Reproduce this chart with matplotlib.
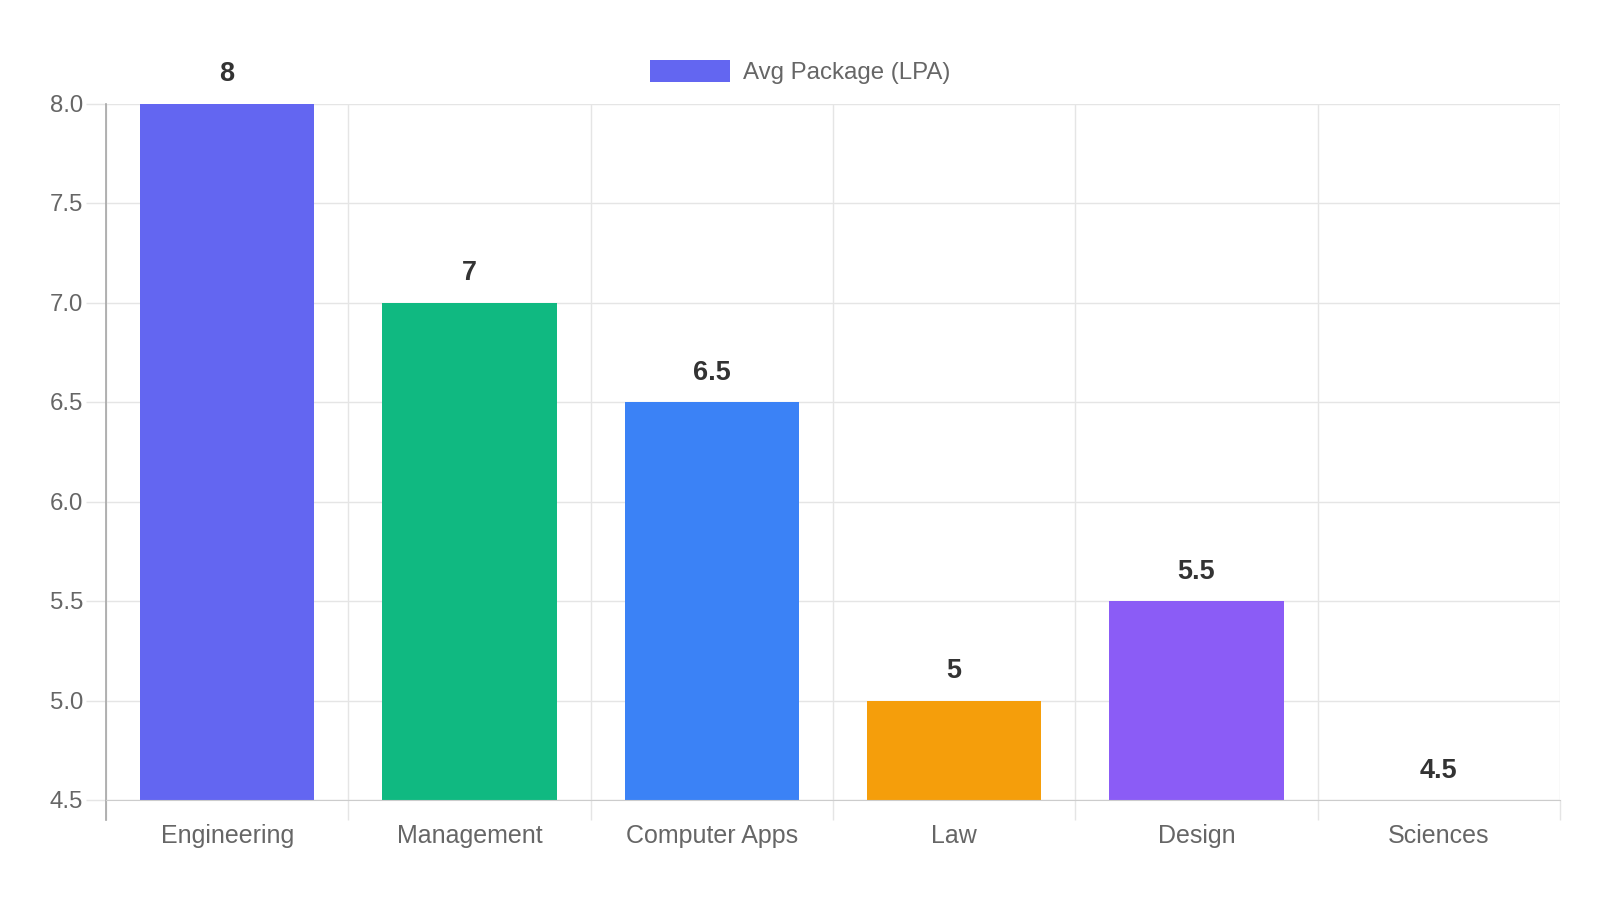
import numpy as np
import matplotlib.pyplot as plt
from matplotlib.ticker import FormatStrFormatter

# data
categories = ["Engineering", "Management", "Computer Apps", "Law", "Design", "Sciences"]
avg_package = [8, 7, 6.5, 5, 5.5, 4.5]
value_labels = ["8", "7", "6.5", "5", "5.5", "4.5"]
bar_colors = ["#6366F1", "#10B981", "#3B82F6", "#F59E0B", "#8B5CF6", "#EC4899"]
y_ticks = [4.5, 5.0, 5.5, 6.0, 6.5, 7.0, 7.5, 8.0]

plt.rcParams['font.family'] = ['Liberation Sans', 'DejaVu Sans']

DPI = 100
PX = 72.0 / DPI  # points per pixel
FS = 24 * PX     # 24px text
GRID = "#e5e5e5"

fig = plt.figure(figsize=(16, 9), dpi=DPI)
ax = fig.add_axes([106 / 1600, 1 - 800 / 900, (1560 - 106) / 1600, (800 - 103.5) / 900])

x = np.arange(len(categories))
ax.bar(x, avg_package, width=0.72, color=bar_colors, label="Avg Package (LPA)", zorder=2)

ax.set_xlim(-0.5, len(categories) - 0.5)
ax.set_ylim(4.5, 8.0)

# y axis
ax.set_yticks(y_ticks)
ax.yaxis.set_major_formatter(FormatStrFormatter('%.1f'))
ax.tick_params(axis='y', length=20 * PX, width=1, color=GRID, labelcolor="#666666",
               labelsize=FS, pad=3 * PX)
ax.grid(axis='y', color=GRID, lw=1, zorder=0)

# x axis: labels centered, grid lines on category boundaries
ax.set_xticks(x)
ax.set_xticklabels(categories)
ax.set_xticks(np.arange(-0.5, len(categories)), minor=True)
ax.tick_params(axis='x', which='major', length=0, labelcolor="#666666", labelsize=25 * PX,
               pad=24 * PX)
ax.tick_params(axis='x', which='minor', length=20 * PX, width=1, color=GRID)
ax.grid(axis='x', which='minor', color=GRID, lw=1, zorder=0)

for side in ['top', 'right', 'left']:
    ax.spines[side].set_visible(False)
ax.spines['bottom'].set_color("#cccccc")
ax.spines['bottom'].set_zorder(3)

# darker left axis line, running down through the tick area
ax.axvline(-0.5, ymin=-20 / 696.5, ymax=1, color="#a6a6a6", lw=1.2, clip_on=False, zorder=3)

# value labels above bars
for xi, val, txt in zip(x, avg_package, value_labels):
    ax.annotate(txt, (xi, val), xytext=(0, 29 * PX), textcoords='offset points',
                ha='center', va='center', fontsize=27 * PX, fontweight='bold', color="#333333",
                annotation_clip=False)

leg = ax.legend(loc='center', bbox_to_anchor=(0.5, 1 - 72 / 900), bbox_transform=fig.transFigure,
                frameon=False, fontsize=FS, handlelength=80 / 24, handleheight=1.0,
                handletextpad=12.5 / 24, borderpad=0)
for t in leg.get_texts():
    t.set_color("#666666")

fig.savefig("out.png", dpi=DPI)
